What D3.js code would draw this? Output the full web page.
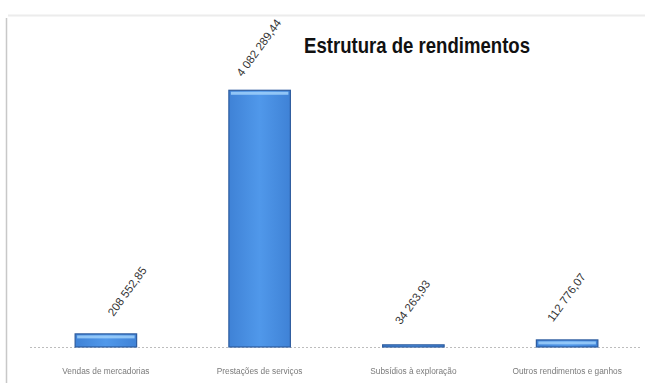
<!DOCTYPE html>
<html>
<head>
<meta charset="utf-8">
<script src="https://cdn.jsdelivr.net/npm/d3@7/dist/d3.min.js"></script>
<style>
  html, body { margin: 0; padding: 0; background: #fff; }
  svg { display: block; }
</style>
</head>
<body>
<svg id="chart" width="650" height="383"></svg>
<script>
// Income structure by category
const categories = [
  "Vendas de mercadorias",
  "Prestações de serviços",
  "Subsídios à exploração",
  "Outros rendimentos e ganhos"
];
const values = [208552.85, 4082289.44, 34263.93, 112776.07];
const valueLabels = ["208 552,85", "4 082 289,44", "34 263,93", "112 776,07"];
const title = "Estrutura de rendimentos";

const W = 650, H = 383;
const margin = { top: 64, right: 10, bottom: 36, left: 29 };
const baseY = H - margin.bottom;

const svg = d3.select("#chart");

const defs = svg.append("defs");
const grad = defs.append("linearGradient")
  .attr("id", "barFill").attr("x1", 0).attr("x2", 1).attr("y1", 0).attr("y2", 0);
grad.append("stop").attr("offset", "0%").attr("stop-color", "#3f82d6");
grad.append("stop").attr("offset", "50%").attr("stop-color", "#5098ea");
grad.append("stop").attr("offset", "100%").attr("stop-color", "#3f82d6");

const soft = defs.append("filter").attr("id", "soft");
soft.append("feGaussianBlur").attr("stdDeviation", 0.45);

// frame remnants
svg.append("line").attr("x1", 6.5).attr("x2", 6.5).attr("y1", 18).attr("y2", H)
  .attr("stroke", "#c8c8c8").attr("stroke-width", 1.5);
svg.append("line").attr("x1", 8).attr("x2", 645).attr("y1", 15.5).attr("y2", 15.5)
  .attr("stroke", "#ececec").attr("stroke-width", 2);

const x = d3.scaleBand()
  .domain(categories)
  .range([margin.left, W - margin.right + 4])
  .paddingInner(0.6)
  .paddingOuter(0.3);

const y = d3.scaleLinear()
  .domain([0, 4500000])
  .range([baseY, margin.top]);

// category axis
const xAxis = d3.axisBottom(x).tickSize(0).tickPadding(21);
const gx = svg.append("g").attr("transform", `translate(0,${baseY})`).call(xAxis);
gx.select(".domain").remove();
gx.selectAll("text")
  .attr("fill", "#7a7a7a")
  .attr("font-family", "Liberation Sans, Arial, sans-serif")
  .attr("font-size", 8.3)
  .attr("filter", "url(#soft)");

svg.append("line")
  .attr("x1", margin.left + 1).attr("x2", W - 10)
  .attr("y1", baseY + 0.5).attr("y2", baseY + 0.5)
  .attr("stroke", "#bdbdbd").attr("stroke-width", 1)
  .attr("stroke-dasharray", "2,2");

const data = categories.map((c, i) => ({ c, v: values[i], label: valueLabels[i] }));

const bars = svg.append("g").selectAll("g").data(data).join("g");

bars.append("rect")
  .attr("x", d => x(d.c))
  .attr("y", d => y(d.v))
  .attr("width", x.bandwidth())
  .attr("height", d => Math.max(1.5, baseY - y(d.v)))
  .attr("fill", "url(#barFill)")
  .attr("stroke", "#2e5c9e")
  .attr("stroke-width", 1.2);

// bevel highlight along the top edge
bars.filter(d => baseY - y(d.v) > 5).append("rect")
  .attr("x", d => x(d.c) + 2)
  .attr("y", d => y(d.v) + 1.5)
  .attr("width", x.bandwidth() - 4)
  .attr("height", 3)
  .attr("fill", "#9fd0fa")
  .attr("opacity", 0.85);

// value labels, rotated above each bar
const labelNudge = { "Vendas de mercadorias": 22 };
bars.append("text")
  .attr("transform", d => {
    const cx = x(d.c) + x.bandwidth() / 2 + (labelNudge[d.c] || 0);
    const cy = y(d.v) - 42;
    return `translate(${cx},${cy}) rotate(-54)`;
  })
  .attr("text-anchor", "middle")
  .attr("dominant-baseline", "middle")
  .attr("font-family", "Liberation Sans, Arial, sans-serif")
  .attr("font-size", 11.5)
  .attr("fill", "#333")
  .text(d => d.label);

svg.append("text")
  .attr("x", 304).attr("y", 53)
  .attr("font-family", "Liberation Sans, Arial, sans-serif")
  .attr("font-weight", "bold")
  .attr("font-size", 22)
  .attr("fill", "#111")
  .attr("textLength", 226)
  .attr("lengthAdjust", "spacingAndGlyphs")
  .text(title);
</script>
</body>
</html>
